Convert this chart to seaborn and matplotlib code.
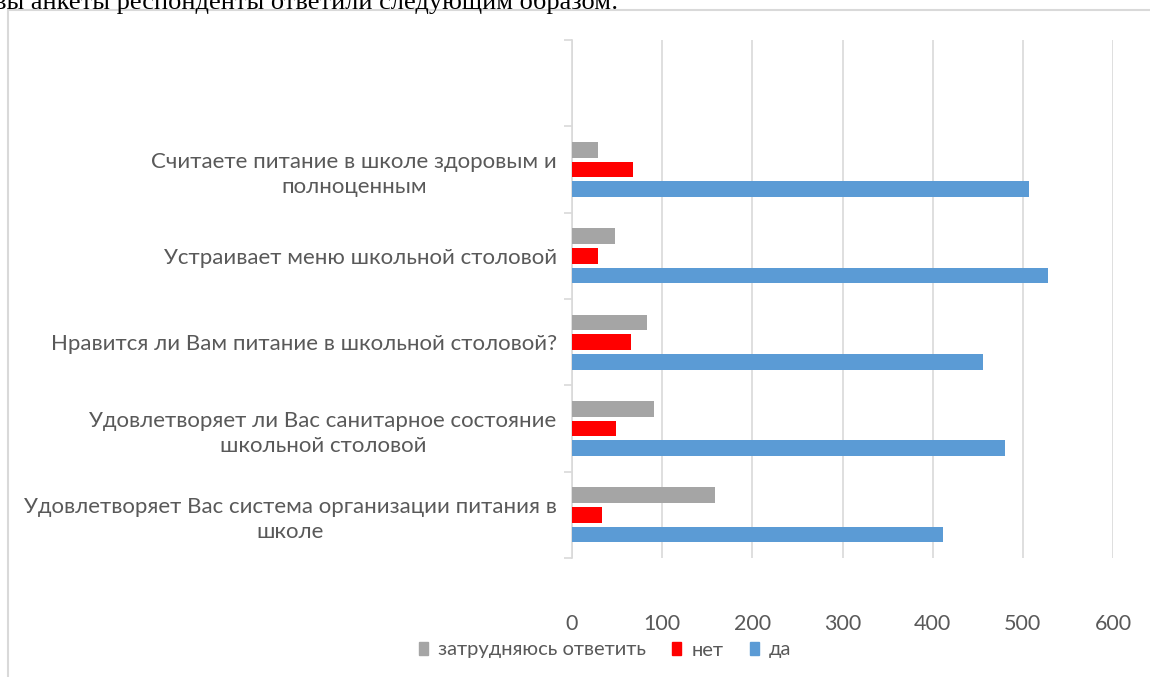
import matplotlib
matplotlib.use("Agg")
import matplotlib.pyplot as plt
import matplotlib.patches as mpatches
from matplotlib.ticker import FixedLocator
import seaborn as sns
import pandas as pd
import numpy as np

# survey questions, top to bottom (first slot is empty in the original chart)
questions = [
    " ",
    "Считаете питание в школе здоровым и\nполноценным",
    "Устраивает меню школьной столовой",
    "Нравится ли Вам питание в школьной столовой?",
    "Удовлетворяет ли Вас санитарное состояние\nшкольной столовой",
    "Удовлетворяет Вас система организации питания в\nшколе",
]
answers = ["затрудняюсь ответить", "нет", "да"]

hard_to_say = [29, 48, 83, 91, 159]
no_vals = [68, 29, 65, 49, 33]
yes_vals = [507, 528, 456, 480, 412]

colors = ["#A5A5A5", "#FF0000", "#5B9BD5"]
text_col = "#595959"
grid_col = "#D9D9D9"

rows = []
for q, a, b, c in zip(questions[1:], hard_to_say, no_vals, yes_vals):
    rows.append((q, answers[0], a))
    rows.append((q, answers[1], b))
    rows.append((q, answers[2], c))
df = pd.DataFrame(rows, columns=["question", "answer", "count"])

sns.set_theme(style="white")
plt.rcParams["font.family"] = ["Lato", "DejaVu Sans"]

fig = plt.figure(figsize=(11.5, 6.77), dpi=100)
ax = fig.add_axes([572 / 1150, 1 - 558 / 677, (1113 - 572) / 1150, (558 - 40) / 677])

sns.barplot(data=df, y="question", x="count", hue="answer", order=questions,
            hue_order=answers, palette=colors, orient="h", width=0.68, gap=0.2,
            saturation=1, ax=ax, zorder=3, edgecolor="none", legend=False)

ax.set_xlim(0, 600)
ax.set_ylim(len(questions) - 0.5, -0.5)
ax.set_xticks(range(0, 601, 100))
ax.xaxis.grid(True, color=grid_col, linewidth=1.2, zorder=0)
ax.set_axisbelow(True)
ax.set_xlabel("")
ax.set_ylabel("")

for side in ["top", "right", "bottom"]:
    ax.spines[side].set_visible(False)
ax.spines["left"].set_color(grid_col)
ax.spines["left"].set_linewidth(1.2)

ax.tick_params(axis="x", length=0, pad=40, labelsize=15.5, labelcolor=text_col)
ax.tick_params(axis="y", which="major", length=0, pad=11, labelsize=16, labelcolor=text_col)
ax.yaxis.set_minor_locator(FixedLocator(np.arange(-0.5, len(questions), 1.0)))
ax.tick_params(axis="y", which="minor", length=6, width=1.2, color=grid_col, left=True)
for lab in ax.get_yticklabels():
    lab.set_multialignment("center")
    lab.set_linespacing(1.35)

# legend below the plot
handles = [mpatches.Patch(color=c, label=l) for c, l in zip(colors, answers)]
leg = fig.legend(handles=handles, loc="center", bbox_to_anchor=(605 / 1150, 1 - 650 / 677),
                 ncol=3, frameon=False, fontsize=14.5, handlelength=0.45, handleheight=0.6,
                 handletextpad=0.5, columnspacing=1.3)
for t in leg.get_texts():
    t.set_color(text_col)

# chart frame and the clipped line of document text above it
fig.patches.append(mpatches.Rectangle((8 / 1150, -0.1), 1.2, 1.1 - 10 / 677,
                                      transform=fig.transFigure, fill=False,
                                      edgecolor=grid_col, linewidth=1.5))
fig.text(-6 / 1150, 1 - 9 / 677, "вы анкеты респонденты ответили следующим образом:",
         family="Liberation Serif", fontsize=19, color="black", va="baseline", ha="left")

fig.savefig("out.png", dpi=100)
